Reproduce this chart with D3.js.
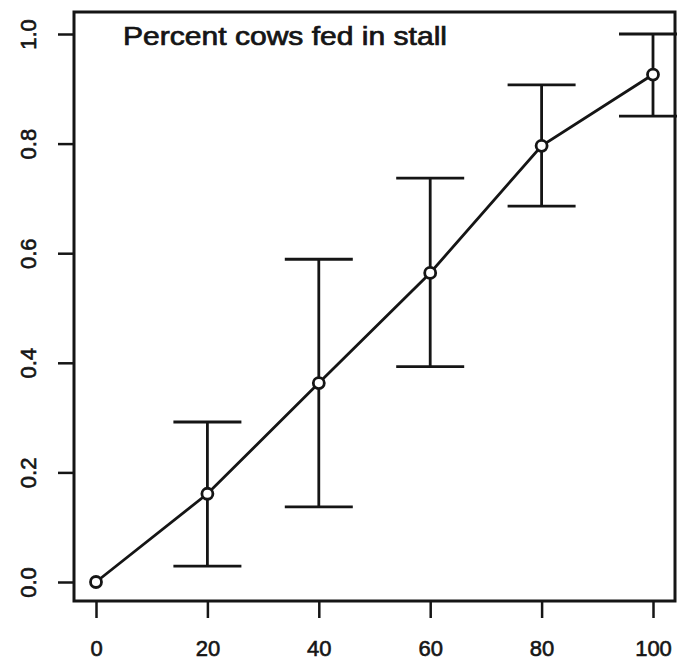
<!DOCTYPE html>
<html><head><meta charset="utf-8">
<script src="https://cdn.jsdelivr.net/npm/d3@7"></script>
<style>body{margin:0;background:#fff}svg{display:block}</style>
</head><body>
<svg id="c" width="677" height="663"></svg>
<script>
const xValues = [0, 20, 40, 60, 80, 100];
const meanValues = [0.0, 0.161, 0.363, 0.564, 0.796, 0.926];
const lowerValues = [null, 0.029, 0.137, 0.393, 0.686, 0.850];
const upperValues = [null, 0.292, 0.589, 0.737, 0.907, 1.0];
const xTicks = [0, 20, 40, 60, 80, 100];
const yTicks = [0.0, 0.2, 0.4, 0.6, 0.8, 1.0];
const title = "Percent cows fed in stall";

const svg = d3.select("#c");
const ink = "#151515";
const font = "Liberation Sans, Arial, sans-serif";
const x = d3.scaleLinear().domain([0, 100]).range([96, 653]);
const y = d3.scaleLinear().domain([0, 1]).range([582, 34]);
const box = {l: 74, r: 675, t: 12, b: 601};

// frame
svg.append("rect").attr("x", box.l).attr("y", box.t)
  .attr("width", box.r - box.l).attr("height", box.b - box.t)
  .attr("fill", "none").attr("stroke", ink).attr("stroke-width", 3);

// x axis
const xAxis = svg.append("g").attr("transform", `translate(0,${box.b})`)
  .call(d3.axisBottom(x).tickValues(xTicks).tickSize(17).tickPadding(22).tickFormat(d3.format("d")));
xAxis.select(".domain").remove();
xAxis.selectAll("line").attr("stroke", ink).attr("stroke-width", 2.5);
xAxis.selectAll("text").attr("font-family", font)
  .attr("font-size", 22).attr("fill", ink)
  .attr("stroke", ink).attr("stroke-width", 0.6);

// y axis
const yAxis = svg.append("g").attr("transform", `translate(${box.l},0)`)
  .call(d3.axisLeft(y).tickValues(yTicks).tickSize(16).tickFormat(d3.format(".1f")));
yAxis.select(".domain").remove();
yAxis.selectAll("line").attr("stroke", ink).attr("stroke-width", 2.5);
yAxis.selectAll("text")
  .attr("font-family", font).attr("font-size", 22).attr("fill", ink)
  .attr("stroke", ink).attr("stroke-width", 0.6)
  .attr("x", null)
  .attr("text-anchor", "middle")
  .attr("transform", "translate(-46,0) rotate(-90)")
  .attr("dy", "0.35em");

// error bars
const eb = xValues.map((v, i) => ({x: v, lo: lowerValues[i], hi: upperValues[i]})).filter(d => d.lo !== null);
const capHalf = 34;
const g = svg.append("g").attr("stroke", ink).attr("stroke-width", 2.8);
eb.forEach(d => {
  g.append("line").attr("x1", x(d.x)).attr("x2", x(d.x)).attr("y1", y(d.lo)).attr("y2", y(d.hi));
  g.append("line").attr("x1", x(d.x) - capHalf).attr("x2", x(d.x) + capHalf).attr("y1", y(d.lo)).attr("y2", y(d.lo));
  g.append("line").attr("x1", x(d.x) - capHalf).attr("x2", x(d.x) + capHalf).attr("y1", y(d.hi)).attr("y2", y(d.hi));
});

// line
const pts = xValues.map((v, i) => [v, meanValues[i]]);
svg.append("path").datum(pts)
  .attr("d", d3.line().x(d => x(d[0])).y(d => y(d[1])))
  .attr("fill", "none").attr("stroke", ink).attr("stroke-width", 2.8);

svg.append("g").selectAll("circle").data(pts).join("circle")
  .attr("cx", d => x(d[0])).attr("cy", d => y(d[1])).attr("r", 5.5)
  .attr("fill", "#fff").attr("stroke", ink).attr("stroke-width", 2.8);

svg.append("text").attr("x", 123).attr("y", 45)
  .attr("font-family", font).attr("font-size", 25)
  .attr("textLength", 324).attr("lengthAdjust", "spacingAndGlyphs")
  .attr("fill", ink).attr("stroke", ink).attr("stroke-width", 0.7).text(title);
</script>
</body></html>
